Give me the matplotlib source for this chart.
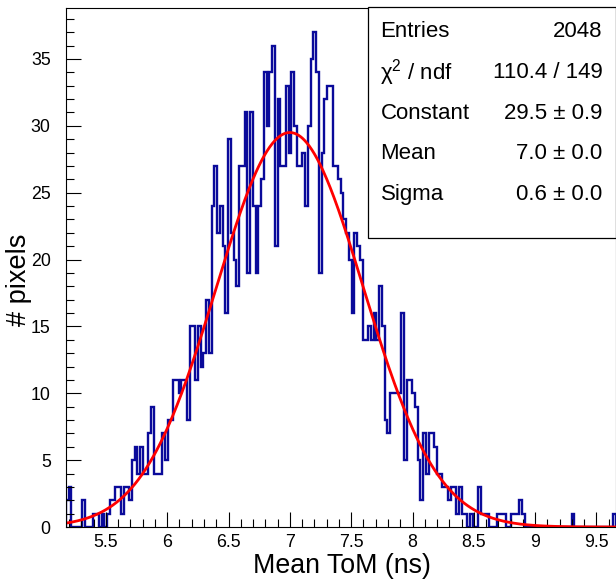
import numpy as np
import matplotlib
matplotlib.use("Agg")
import matplotlib.pyplot as plt
from matplotlib.patches import Rectangle
from matplotlib.ticker import MultipleLocator

# histogram of mean ToM per pixel (200 bins)
counts = [
    2, 3, 0, 0, 0, 0, 2, 0, 0, 0, 1, 1, 0, 1, 0, 1, 2, 2, 3, 3,
    1, 3, 3, 2, 5, 6, 4, 6, 4, 4, 7, 9, 4, 4, 4, 7, 5, 8, 8, 11,
    11, 10, 11, 11, 8, 15, 15, 11, 15, 12, 13, 17, 13, 24, 27, 22, 24, 21, 16, 29,
    22, 20, 18, 27, 27, 31, 19, 31, 24, 19, 24, 26, 34, 30, 34, 36, 21, 32, 27, 27,
    33, 28, 34, 30, 27, 27, 28, 24, 30, 35, 37, 34, 19, 28, 32, 33, 33, 27, 27, 26,
    25, 23, 22, 20, 16, 22, 21, 20, 14, 14, 15, 14, 16, 14, 18, 15, 8, 7, 10, 10,
    10, 10, 16, 5, 11, 11, 10, 9, 5, 2, 7, 4, 7, 7, 6, 4, 4, 3, 3, 2,
    3, 3, 1, 3, 1, 1, 0, 1, 0, 0, 3, 1, 1, 1, 0, 0, 0, 1, 1, 1,
    0, 0, 1, 1, 1, 2, 1, 0, 0, 0, 0, 0, 0, 0, 0, 0, 0, 0, 0, 0,
    0, 0, 0, 0, 1, 0, 0, 0, 0, 0, 0, 0, 0, 0, 0, 0, 0, 0, 0, 1,
]
x_lo, x_hi = 5.175, 9.655

# gaus fit parameters
fit_const = 29.5
fit_mean = 7.0
fit_sigma = 0.6

stat_labels = ["Entries", r"$\chi^{2}$ / ndf", "Constant", "Mean", "Sigma"]
stat_values = ["2048", "110.4 / 149", "29.5 \u00b1 0.9", "7.0 \u00b1 0.0", "0.6 \u00b1 0.0"]

plt.rcParams["font.family"] = ["Liberation Sans", "DejaVu Sans"]
plt.rcParams["mathtext.fontset"] = "custom"
plt.rcParams["mathtext.rm"] = "Liberation Sans"
plt.rcParams["mathtext.it"] = "Liberation Sans"
plt.rcParams["mathtext.default"] = "regular"

W, H = 616, 582
fig = plt.figure(figsize=(W / 100, H / 100), dpi=100)
ax = fig.add_axes([66 / W, 1 - 527 / H, (615.5 - 66) / W, (527 - 7.5) / H])

edges = np.linspace(x_lo, x_hi, len(counts) + 1)
ax.stairs(counts, edges, color="#0a0a9a", linewidth=1.7, baseline=0)

xf = np.linspace(x_lo, x_hi, 600)
yf = fit_const * np.exp(-0.5 * ((xf - fit_mean) / fit_sigma) ** 2)
ax.plot(xf, yf, color="#ff0000", linewidth=2.0)

ax.set_xlim(x_lo, x_hi)
ax.set_ylim(0, 1.05 * max(counts))

ax.xaxis.set_major_locator(MultipleLocator(0.5))
ax.xaxis.set_minor_locator(MultipleLocator(0.1))
ax.yaxis.set_major_locator(MultipleLocator(5))
ax.yaxis.set_minor_locator(MultipleLocator(1))
ax.set_xticks([5.5, 6, 6.5, 7, 7.5, 8, 8.5, 9, 9.5])
ax.set_xticklabels(["5.5", "6", "6.5", "7", "7.5", "8", "8.5", "9", "9.5"])
ax.tick_params(which="both", direction="in", top=False, right=False,
               width=0.8, labelsize=12.8, colors="black")
ax.tick_params(which="major", length=11)
ax.tick_params(which="minor", length=5.5)
ax.tick_params(axis="y", pad=11)
ax.tick_params(axis="x", pad=5)
for sp in ax.spines.values():
    sp.set_linewidth(0.8)

fig.text(342 / W, 1 - 573 / H, "Mean ToM (ns)", fontsize=19.3,
         ha="center", va="baseline")
fig.text(19 / W, 1 - 280 / H, "# pixels", fontsize=19.5, rotation=90,
         ha="center", va="center")

# stats box
box = Rectangle((367.5 / W, 1 - 237.5 / H), (W - 367.5) / W, (237.5 - 7.5) / H,
                transform=fig.transFigure, facecolor="white",
                edgecolor="black", linewidth=0.9, zorder=5)
fig.patches.append(box)
row_y = [31.7, 72.7, 113.3, 154, 195]
for lab, val, yy in zip(stat_labels, stat_values, row_y):
    fig.text(380.5 / W, 1 - yy / H, lab, fontsize=16, ha="left", va="center", zorder=6)
    fig.text(602.5 / W, 1 - yy / H, val, fontsize=16, ha="right", va="center", zorder=6)

fig.savefig("out.png", dpi=100)
